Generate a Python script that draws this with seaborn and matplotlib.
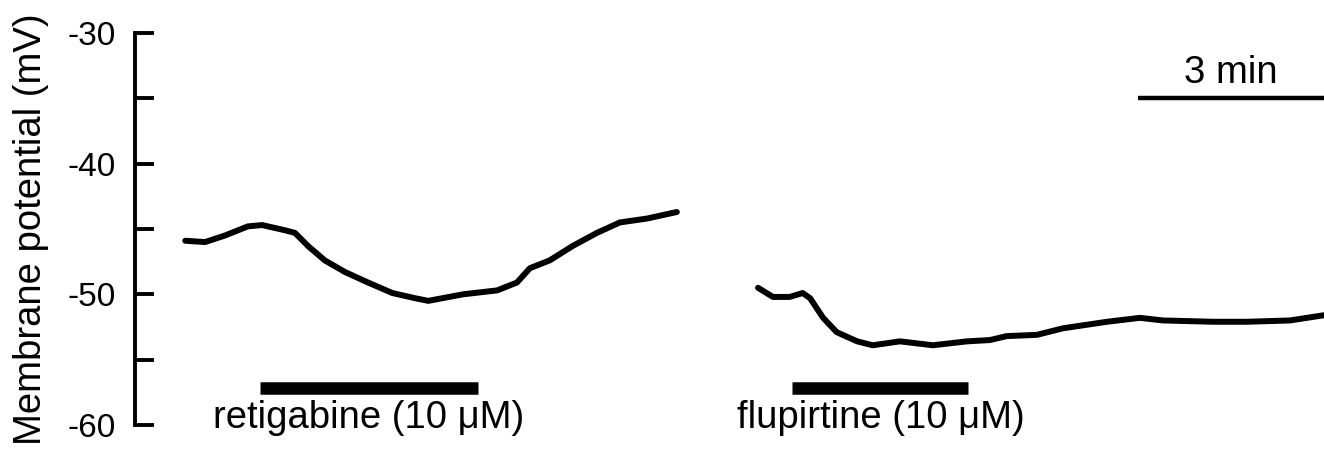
import matplotlib
matplotlib.use("Agg")
import matplotlib.pyplot as plt
import seaborn as sns

# Data (time in minutes, membrane potential in mV)
retig_time = [0.81, 1.13, 1.45, 1.82, 2.05, 2.42, 2.58, 2.79, 3.06, 3.39, 3.76, 4.15, 4.52,
              4.73, 5.29, 5.84, 6.16, 6.37, 6.69, 7.06, 7.45, 7.82, 8.26, 8.74]
retig_mv = [-45.9, -46.0, -45.5, -44.8, -44.7, -45.1, -45.3, -46.3, -47.4, -48.3, -49.1, -49.9,
            -50.3, -50.5, -50.0, -49.7, -49.1, -48.0, -47.4, -46.3, -45.3, -44.5, -44.2, -43.7]

flup_time = [10.05, 10.29, 10.56, 10.77, 10.89, 11.10, 11.32, 11.65, 11.90, 12.34, 12.87, 13.42,
             13.79, 14.06, 14.55, 14.97, 15.68, 16.21, 16.58, 17.39, 17.94, 18.63, 19.18]
flup_mv = [-49.5, -50.2, -50.2, -49.9, -50.3, -51.8, -52.9, -53.6, -53.9, -53.6, -53.9, -53.6,
           -53.5, -53.2, -53.1, -52.6, -52.1, -51.8, -52.0, -52.1, -52.1, -52.0, -51.6]

drug_names = ["retigabine (10 \u03bcM)", "flupirtine (10 \u03bcM)"]
drug_start = [2.02, 10.60]
drug_end = [5.53, 13.44]
label_x = [1.26, 9.71]

scale_start, scale_len = 16.18, 3.0
yticks = [-30, -35, -40, -45, -50, -55, -60]
yticklabels = ["-30", "", "-40", "", "-50", "", "-60"]

sns.set_style("white")
plt.rcParams["font.family"] = ["Liberation Sans", "DejaVu Sans"]
plt.rcParams["text.color"] = "black"
plt.rcParams["ytick.color"] = "black"
plt.rcParams["axes.labelcolor"] = "black"

fig = plt.figure(figsize=(13.24, 4.49), dpi=100)
ax = fig.add_axes([0.102, 0.0535, 0.898, 0.873])

sns.lineplot(x=retig_time, y=retig_mv, ax=ax, color="black", lw=4.3,
             sort=False, estimator=None)
sns.lineplot(x=flup_time, y=flup_mv, ax=ax, color="black", lw=4.3,
             sort=False, estimator=None)

# drug application bars + labels
for name, s, e, lx in zip(drug_names, drug_start, drug_end, label_x):
    ax.hlines(-57.2, s, e, color="black", lw=9)
    ax.text(lx, -60.2, name, fontsize=27.5, ha="left", va="baseline")

# 3 min scale bar
ax.hlines(-35.0, scale_start, scale_start + scale_len, color="black", lw=3.2, clip_on=False)
ax.text(scale_start + scale_len / 2, -33.8, "3 min", fontsize=27.5, ha="center", va="baseline")

ax.set_xlim(0, 19.18)
ax.set_ylim(-60, -30)
ax.set_yticks(yticks)
ax.set_yticklabels(yticklabels)
ax.set_xticks([])
ax.set_ylabel("Membrane potential (mV)", fontsize=27.5)
ax.yaxis.set_label_coords(-0.072, 0.5)

for side in ["top", "right", "bottom"]:
    ax.spines[side].set_visible(False)
ax.spines["left"].set_linewidth(2.8)
ax.spines["left"].set_color("black")
ax.tick_params(axis="y", direction="in", length=14, width=2.8, labelsize=24, pad=14, left=True)

fig.savefig("out.png", dpi=100)
